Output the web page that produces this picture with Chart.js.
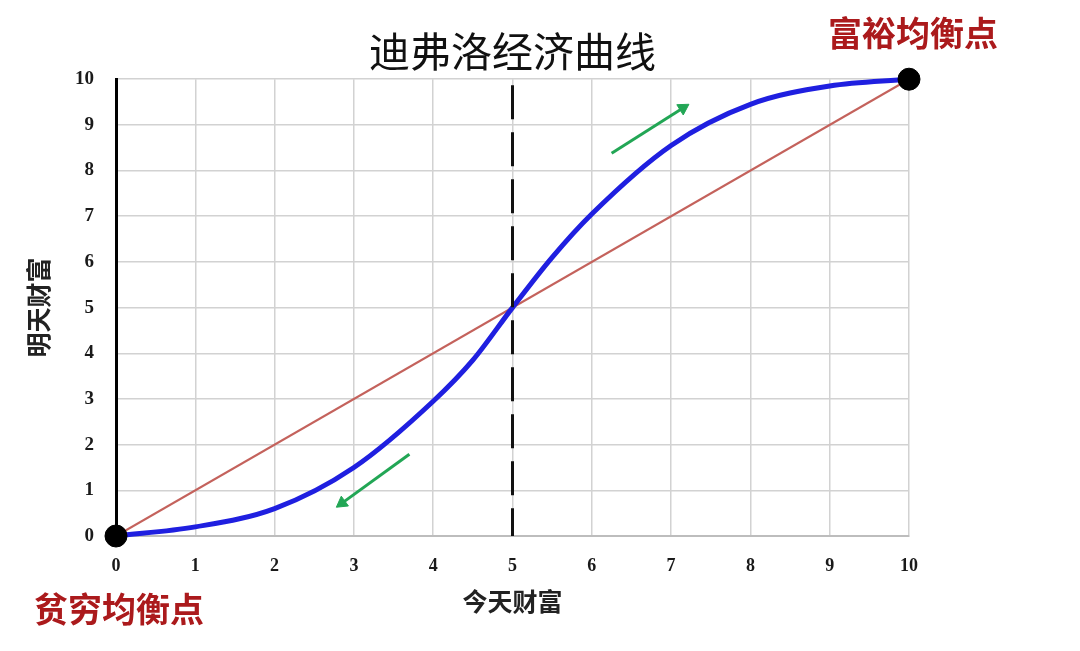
<!DOCTYPE html>
<html>
<head>
<meta charset="utf-8">
<script src="https://cdn.jsdelivr.net/npm/chart.js@4"></script>
<style>
html,body{margin:0;padding:0;background:#fff;}
#wrap{width:1080px;height:651px;position:relative;}
</style>
</head>
<body>
<div id="wrap"><canvas id="c" width="1080" height="651"></canvas></div>
<script>
// ---- data ----
const titleText = '迪弗洛经济曲线';
const xTitle = '今天财富';
const yTitle = '明天财富';
const richLabel = '富裕均衡点';
const poorLabel = '贫穷均衡点';

const tickValues = [0,1,2,3,4,5,6,7,8,9,10];

// S-shaped curve (blue)
const curveX = [0, 1, 2, 3, 4, 4.5, 5, 5.5, 6, 7, 8, 9, 10];
const curveY = [0, 0.2, 0.6, 1.5, 2.95, 3.85, 5, 6.1, 7.05, 8.55, 9.45, 9.85, 10];

// 45-degree line (red)
const diagX = [0, 10];
const diagY = [0, 10];

// dashed vertical line at threshold
const threshX = [5, 5];
const threshY = [10, 0];

// equilibrium points
const eqX = [0, 10];
const eqY = [0, 10];

// green arrows (start -> end)
const arrowUpX = [6.25, 7.15];
const arrowUpY = [8.38, 9.37];
const arrowDownX = [3.7, 2.85];
const arrowDownY = [1.79, 0.72];

const pts = (xs, ys) => xs.map((x, i) => ({x: x, y: ys[i]}));

const labelPlugin = {
  id: 'eqLabels',
  afterDraw(chart) {
    const ctx = chart.ctx;
    const xs = chart.scales.x, ys = chart.scales.y;
    ctx.save();
    ctx.font = 'bold 34px "Noto Sans CJK SC"';
    ctx.fillStyle = '#ab1a1c';
    ctx.textAlign = 'center';
    ctx.textBaseline = 'middle';
    ctx.fillText(richLabel, xs.getPixelForValue(eqX[1]) + 4, ys.getPixelForValue(eqY[1]) - 46);
    ctx.fillText(poorLabel, xs.getPixelForValue(eqX[0]) + 3, ys.getPixelForValue(eqY[0]) + 73);
    ctx.restore();
  }
};

new Chart(document.getElementById('c'), {
  type: 'scatter',
  data: {
    datasets: [
      {
        label: 'eq',
        data: pts(eqX, eqY),
        backgroundColor: '#000',
        borderColor: '#000',
        pointRadius: 11,
        showLine: false,
        clip: false
      },
      {
        label: 'threshold',
        data: pts(threshX, threshY),
        showLine: true,
        borderColor: '#111',
        borderWidth: 3,
        borderDash: [34, 13],
        borderDashOffset: 41,
        pointRadius: 0
      },
      {
        label: 'curve',
        data: pts(curveX, curveY),
        showLine: true,
        borderColor: '#1f1fe0',
        borderWidth: 5,
        cubicInterpolationMode: 'monotone',
        pointRadius: 0,
        clip: false
      },
      {
        label: 'diag',
        data: pts(diagX, diagY),
        showLine: true,
        borderColor: '#c4625c',
        borderWidth: 2.2,
        pointRadius: 0
      },
      {
        label: 'arrowUp',
        data: pts(arrowUpX, arrowUpY),
        showLine: true,
        borderColor: '#22a655',
        backgroundColor: '#22a655',
        borderWidth: 3,
        pointStyle: 'triangle',
        pointRadius: [0, 7],
        pointRotation: [0, 58],
        pointBorderWidth: 1
      },
      {
        label: 'arrowDown',
        data: pts(arrowDownX, arrowDownY),
        showLine: true,
        borderColor: '#22a655',
        backgroundColor: '#22a655',
        borderWidth: 3,
        pointStyle: 'triangle',
        pointRadius: [0, 7],
        pointRotation: [0, 234],
        pointBorderWidth: 1
      }
    ]
  },
  options: {
    responsive: false,
    animation: false,
    events: [],
    layout: { padding: { top: 0, right: 171, bottom: 0, left: 0 } },
    plugins: {
      legend: { display: false },
      tooltip: { enabled: false },
      title: {
        display: true,
        text: titleText,
        fullSize: false,
        color: '#111',
        font: { family: '"Noto Sans CJK SC"', size: 41, weight: 'normal', lineHeight: 1.2 },
        padding: { top: 27, bottom: 3 }
      }
    },
    scales: {
      x: {
        type: 'linear',
        min: 0, max: 10,
        afterFit(s) { s.height = 115; },
        afterBuildTicks(s) { s.ticks = tickValues.map(v => ({value: v})); },
        ticks: {
          stepSize: 1,
          padding: 20,
          color: '#1a1a1a',
          font: { family: '"Liberation Serif"', size: 18, weight: 'bold' }
        },
        grid: { color: '#d2d2d2', lineWidth: 1.5, drawTicks: false },
        border: { color: '#bdbdbd', width: 2 },
        title: {
          display: true,
          text: xTitle,
          color: '#222',
          font: { family: '"Noto Sans CJK SC"', size: 25, weight: 'bold', lineHeight: 1.2 },
          padding: { top: 0, bottom: 35 }
        }
      },
      y: {
        type: 'linear',
        min: 0, max: 10,
        afterFit(s) { s.width = 116; },
        afterBuildTicks(s) { s.ticks = tickValues.map(v => ({value: v})); },
        ticks: {
          stepSize: 1,
          padding: 22,
          color: '#1a1a1a',
          font: { family: '"Liberation Serif"', size: 19, weight: 'bold' }
        },
        grid: { color: '#d2d2d2', lineWidth: 1.5, drawTicks: false },
        border: { color: '#000', width: 3 },
        title: {
          display: true,
          text: yTitle,
          color: '#222',
          font: { family: '"Noto Sans CJK SC"', size: 25, weight: 'bold', lineHeight: 1.2 },
          padding: { top: 23, bottom: 0 }
        }
      }
    }
  },
  plugins: [labelPlugin]
});
</script>
</body>
</html>
